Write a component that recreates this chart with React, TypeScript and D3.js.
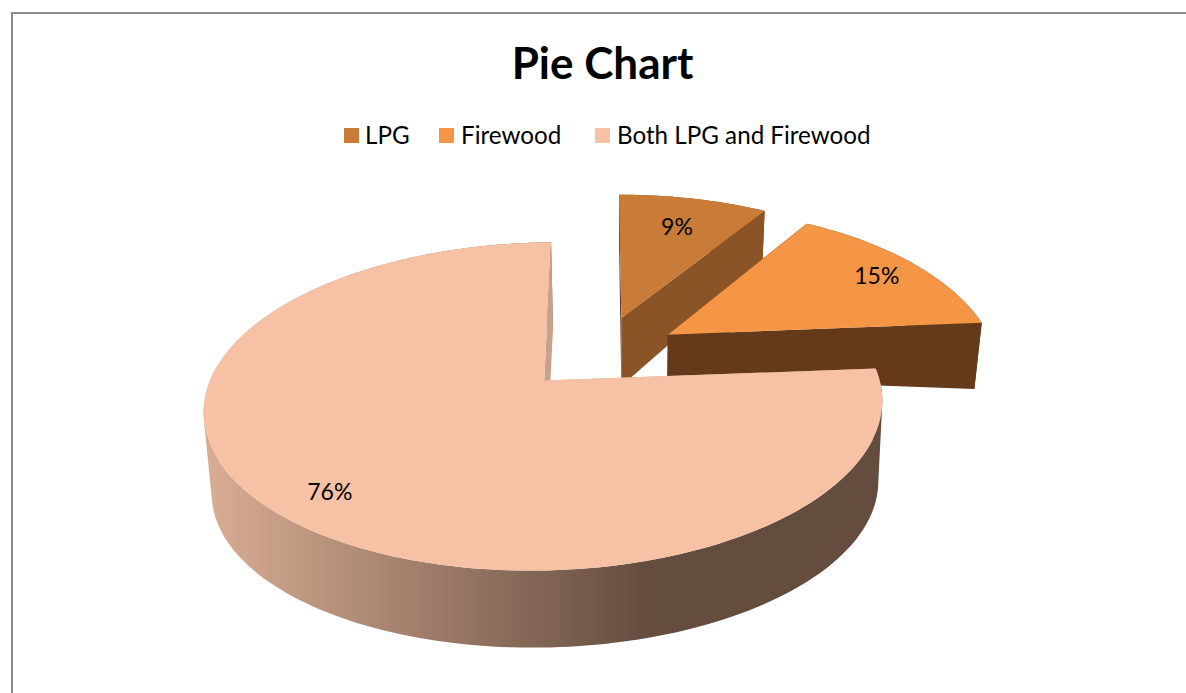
import React from "react";
import * as d3 from "d3";

const categories = ["LPG", "Firewood", "Both LPG and Firewood"];
const shares = [9, 15, 76];
const topColors = ["#c97b38", "#f59646", "#f6c1a5"];
const cutColors = ["#8a5426", "#643a1a", "#c9a08a"];
const startCutColors = ["#5e3d1f", "#4a2b13", "#c9a08a"];

// projection settings of each exploded slice (screen layout, not data)
const views = [
  { a: 320, b: 149.6, p: 0.213, c: -2.8, shear: 0, s: 0.985, bdx: 0, d0: 68, du: 0, dv: -19, labelR: 0.74, labelDy: 0, thinCut: false },
  { a: 320, b: 161, p: 0.278, c: 0, shear: 2, s: 0.978, bdx: -0.5, d0: 43, du: 23.3, dv: 0, labelR: 0.85, labelDy: 3, thinCut: false },
  { a: 335, b: 160, p: 0.1585, c: 8, shear: 2, s: 0.982, bdx: 2, d0: 82, du: 0, dv: 5, labelR: 0.825, labelDy: 2, thinCut: true },
];

const W = 1186;
const H = 693;
const center = { x: 599, y: 353.5 };
const explode = { x: 80, y: 37 };

const pie = d3.pie<number>().sort(null).startAngle(0).endAngle(2 * Math.PI);
const arcs = pie(shares);
const toPath = d3.line<[number, number]>().x((d) => d[0]).y((d) => d[1]);

const slices = arcs.map((arc, i) => {
  const v = views[i];
  const mid = (arc.startAngle + arc.endAngle) / 2;
  const ax = center.x + Math.sin(mid) * explode.x;
  const ay = center.y - Math.cos(mid) * explode.y;
  const top = (r: number, t: number): [number, number] => {
    const u = r * Math.sin(t);
    const w = r * Math.cos(t);
    const k = 1 + v.p * w;
    return [ax + (v.a * u + v.c * w) / k, ay - (v.b * w + v.shear * u) / k];
  };
  const bottom = (r: number, t: number): [number, number] => {
    const [x, y] = top(r, t);
    const u = r * Math.sin(t);
    const w = r * Math.cos(t);
    return [ax + v.bdx + v.s * (x - ax), y + v.d0 + v.du * u + v.dv * w];
  };
  const n = Math.max(8, Math.round((arc.endAngle - arc.startAngle) * 40));
  const angles = d3.range(n + 1).map((j) => arc.startAngle + ((arc.endAngle - arc.startAngle) * j) / n);
  const rimTop = angles.map((t) => top(1, t));
  const rimBottom = angles.map((t) => bottom(1, t));
  // the outer wall as quads of one winding, so that the back and front parts add up
  const wallPath = d3
    .range(n)
    .map((j) => {
      const quad: [number, number][] = [rimTop[j], rimTop[j + 1], rimBottom[j + 1], rimBottom[j]];
      if (d3.polygonArea(quad) < 0) quad.reverse();
      return toPath(quad)! + "Z";
    })
    .join("");
  const startPts: [number, number][] = v.thinCut
    ? [top(0, 0), top(1, arc.startAngle), bottom(0, 0)]
    : [top(0, 0), top(1, arc.startAngle), bottom(1, arc.startAngle), bottom(0, 0)];
  const lab = top(v.labelR, mid);
  return {
    i,
    topPath: toPath([top(0, 0), ...rimTop])! + "Z",
    wallPath,
    startCut: toPath(startPts)! + "Z",
    endCut: toPath([top(0, 0), top(1, arc.endAngle), bottom(1, arc.endAngle), bottom(0, 0)])! + "Z",
    label: [lab[0], lab[1] + v.labelDy],
    text: `${arc.value}%`,
  };
});

const legendItems = [
  { sx: 344, tx: 365 },
  { sx: 439, tx: 461 },
  { sx: 595, tx: 617 },
];

export default function App() {
  const font = "Lato, 'Open Sans', sans-serif";
  return (
    <svg
      width={W}
      height={H}
      viewBox={`0 0 ${W} ${H}`}
      style={{ position: "absolute", left: 0, top: 0, display: "block" }}
    >
      <defs>
        <linearGradient id="wall" gradientUnits="userSpaceOnUse" x1={205} x2={880} y1={0} y2={0}>
          <stop offset="0" stopColor="#d9ad94" />
          <stop offset="0.66" stopColor="#644c3f" />
          <stop offset="1" stopColor="#644c3f" />
        </linearGradient>
      </defs>
      <rect width={W} height={H} fill="#fff" />
      <path d={`M12 ${H}V13H${W}`} fill="none" stroke="#8c8c8c" strokeWidth={2} />
      <text x={602.5} y={79} textAnchor="middle" fontFamily={font} fontWeight={700} fontSize={44} fill="#000">
        Pie Chart
      </text>
      {categories.map((c, i) => (
        <g key={c}>
          <rect x={legendItems[i].sx} y={128} width={15} height={15} fill={topColors[i]} />
          <text x={legendItems[i].tx} y={144} fontFamily={font} fontSize={24.2} fill="#000">
            {c}
          </text>
        </g>
      ))}
      {slices.map((s) => (
        <g key={s.i}>
          <path d={s.wallPath} fill={s.i === 2 ? "url(#wall)" : cutColors[s.i]} fillRule="nonzero" />
          <path d={s.startCut} fill={startCutColors[s.i]} />
          <path d={s.endCut} fill={cutColors[s.i]} />
          <path d={s.topPath} fill={topColors[s.i]} />
        </g>
      ))}
      {slices.map((s) => (
        <text
          key={s.i}
          x={s.label[0]}
          y={s.label[1]}
          dy="0.42em"
          textAnchor="middle"
          fontFamily={font}
          fontSize={23}
          fill="#000"
        >
          {s.text}
        </text>
      ))}
    </svg>
  );
}
